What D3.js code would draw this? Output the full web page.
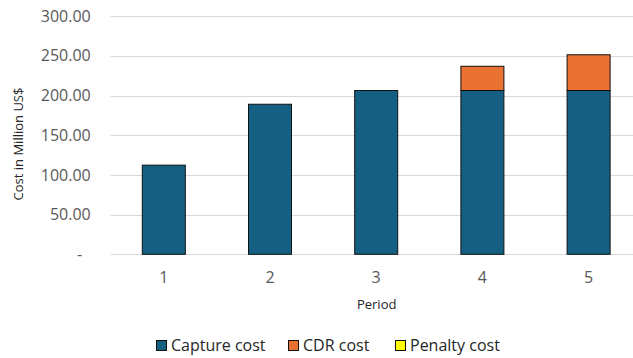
<!DOCTYPE html>
<html>
<head>
<meta charset="utf-8">
<script src="https://cdn.jsdelivr.net/npm/d3@7"></script>
<style>
  html, body { margin: 0; padding: 0; background: #fff; overflow: hidden; }
  svg { display: block; }
  text { font-family: "Open Sans", "Liberation Sans", Arial, sans-serif; }
</style>
</head>
<body>
<svg id="chart" width="633" height="358"></svg>
<script>
// Cost per period, in million US$
const periods = ["1", "2", "3", "4", "5"];
const captureCost = [112.3, 189.0, 206.3, 206.3, 206.3];
const cdrCost = [0, 0, 0, 30.5, 45.0];
const penaltyCost = [0, 0, 0, 0, 0];
const seriesNames = ["Capture cost", "CDR cost", "Penalty cost"];
const seriesColors = ["#156082", "#E97132", "#FFFF00"];
const yTicks = [0, 50, 100, 150, 200, 250, 300];

const rows = periods.map((p, i) => ({
  period: p,
  "Capture cost": captureCost[i],
  "CDR cost": cdrCost[i],
  "Penalty cost": penaltyCost[i]
}));

const FONT = "'Open Sans', 'Liberation Sans', Arial, sans-serif";
const svg = d3.select("#chart");
const plot = { left: 110.7, right: 641.7, top: 16.1, bottom: 254.3 };

const x = d3.scaleBand()
  .domain(periods)
  .range([plot.left, plot.right])
  .paddingInner(0.595)
  .paddingOuter(0.2975);

const y = d3.scaleLinear()
  .domain([0, 300])
  .range([plot.bottom, plot.top]);

// Horizontal gridlines
svg.append("g")
  .selectAll("line")
  .data(yTicks)
  .join("line")
  .attr("x1", plot.left)
  .attr("x2", plot.right)
  .attr("y1", d => Math.round(y(d)) + 0.5)
  .attr("y2", d => Math.round(y(d)) + 0.5)
  .attr("stroke", "#d9d9d9")
  .attr("stroke-width", 1);

// Y axis labels (accounting style: zero shown as a dash)
const yAxis = d3.axisLeft(y)
  .tickValues(yTicks)
  .tickSize(0)
  .tickPadding(0)
  .tickFormat(d => d === 0 ? "-" : d3.format(".2f")(d));

const gy = svg.append("g")
  .attr("transform", `translate(${plot.left - 20},0)`)
  .call(yAxis);
gy.select(".domain").remove();
gy.selectAll("text")
  .attr("fill", "#595959")
  .attr("dx", d => d === 0 ? -8.5 : 0)
  .style("font-size", "16px")
  .style("font-family", FONT);

// Stacked bars
const stacked = d3.stack().keys(seriesNames)(rows);

svg.append("g")
  .selectAll("g")
  .data(stacked)
  .join("g")
  .attr("fill", (d, i) => seriesColors[i])
  .selectAll("rect")
  .data(d => d.filter(s => s[1] - s[0] > 0))
  .join("rect")
  .attr("x", d => x(d.data.period))
  .attr("width", x.bandwidth())
  .attr("y", d => y(d[1]))
  .attr("height", d => y(d[0]) - y(d[1]))
  .attr("stroke", "#111")
  .attr("stroke-width", 1);

// X axis labels
const xAxis = d3.axisBottom(x).tickSize(0).tickPadding(0);
const gx = svg.append("g")
  .attr("transform", `translate(0,${plot.bottom + 17})`)
  .call(xAxis);
gx.select(".domain").remove();
gx.selectAll("text")
  .attr("fill", "#595959")
  .style("font-size", "16px")
  .style("font-family", FONT);

// Axis titles
svg.append("text")
  .attr("transform", "translate(22.6,144) rotate(-90)")
  .attr("text-anchor", "middle")
  .attr("fill", "#262626")
  .style("font-size", "13px")
  .text("Cost in Million US$");

svg.append("text")
  .attr("x", 376.7)
  .attr("y", 309)
  .attr("text-anchor", "middle")
  .attr("fill", "#262626")
  .style("font-size", "13px")
  .text("Period");

// Legend
const legendX = [156, 288, 395];
const legend = svg.append("g")
  .selectAll("g")
  .data(seriesNames)
  .join("g")
  .attr("transform", (d, i) => `translate(${legendX[i]},340)`);

legend.append("rect")
  .attr("x", 0.5)
  .attr("y", 0.5)
  .attr("width", 10)
  .attr("height", 10)
  .attr("fill", (d, i) => seriesColors[i])
  .attr("stroke", "#111")
  .attr("stroke-width", 1);

legend.append("text")
  .attr("x", 15)
  .attr("y", 10.5)
  .attr("fill", "#262626")
  .style("font-size", "16px")
  .text(d => d);
</script>
</body>
</html>
